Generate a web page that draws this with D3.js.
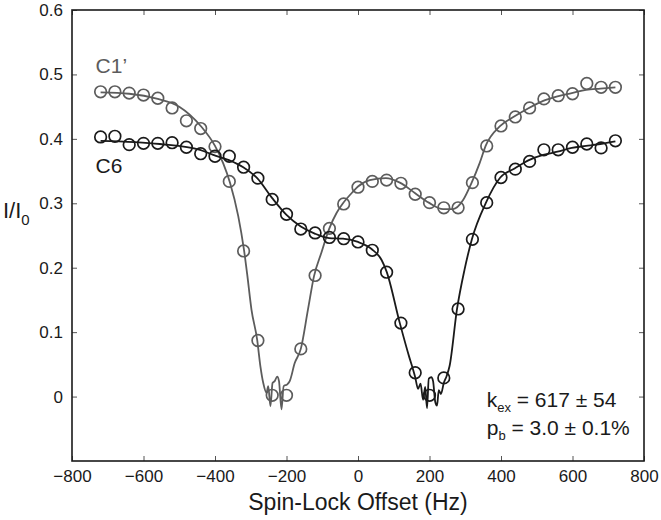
<!DOCTYPE html>
<html>
<head>
<meta charset="utf-8">
<script src="https://cdn.jsdelivr.net/npm/d3@7"></script>
<style>
  body { margin: 0; background: #fff; }
  text { font-family: "Liberation Sans", Arial, Helvetica, sans-serif; }
</style>
</head>
<body>
<div id="canvas"></div>
<script>
// spin-lock offsets (Hz) of the measured points
const offsets = [-720, -680, -640, -600, -560, -520, -480, -440, -400, -360, -320, -280, -240, -200, -160, -120, -80, -40,
  0, 40, 80, 120, 160, 200, 240, 280, 320, 360, 400, 440, 480, 520, 560, 600, 640, 680, 720];

const c1Points = [0.473, 0.473, 0.471, 0.468, 0.463, 0.448, 0.428, 0.416, 0.388, 0.334, 0.226, 0.087, 0.002, 0.002,
  0.074, 0.188, 0.261, 0.299, 0.325, 0.334, 0.336, 0.331, 0.314, 0.301, 0.293, 0.293, 0.332, 0.389, 0.42, 0.434,
  0.448, 0.462, 0.467, 0.47, 0.486, 0.48, 0.48];

const c6Points = [0.403, 0.404, 0.391, 0.393, 0.393, 0.394, 0.387, 0.377, 0.373, 0.373, 0.356, 0.339, 0.306, 0.283,
  0.26, 0.254, 0.247, 0.245, 0.24, 0.227, 0.193, 0.114, 0.037, 0.002, 0.029, 0.136, 0.244, 0.301, 0.34, 0.353,
  0.365, 0.383, 0.383, 0.387, 0.392, 0.386, 0.397];

// fitted curves (incl. the numerical ripple at the dips)
const c1FitX = [-720, -640, -560, -500, -440, -400, -377, -358, -335, -319, -310, -298, -282, -273, -265, -256, -251,
  -245, -239, -233, -226, -221, -214, -208, -198, -191, -177, -160, -140, -123, -102, -81, -60, -42, -14, 0, 33, 78,
  117, 159, 198, 238, 266, 294, 317, 340, 357, 398, 438, 478, 518, 558, 598, 638, 678, 720];
const c1FitY = [0.472, 0.47, 0.462, 0.45, 0.42, 0.389, 0.362, 0.332, 0.28, 0.228, 0.19, 0.135, 0.088, 0.047, 0.021,
  0.006, 0.016, -0.015, 0.021, 0.024, 0.031, 0.024, -0.02, 0.016, 0.019, 0.024, 0.052, 0.074, 0.135, 0.187, 0.224,
  0.26, 0.285, 0.3, 0.318, 0.326, 0.336, 0.339, 0.332, 0.316, 0.301, 0.291, 0.291, 0.305, 0.331, 0.362, 0.389, 0.42,
  0.435, 0.448, 0.459, 0.466, 0.471, 0.476, 0.478, 0.48];

const c6FitX = [-720, -554, -442, -405, -361, -321, -282, -240, -200, -160, -121, -81, -42, 0, 38, 66, 80, 117, 143,
  154, 160, 168, 175, 182, 188, 193, 198, 205, 210, 216, 221, 226, 232, 240, 248, 256, 277, 298, 319, 357, 398, 438,
  478, 518, 558, 598, 638, 678, 720];
const c6FitY = [0.397, 0.392, 0.383, 0.375, 0.367, 0.356, 0.339, 0.308, 0.282, 0.264, 0.253, 0.246, 0.245, 0.24,
  0.229, 0.212, 0.194, 0.114, 0.062, 0.042, 0.03, 0.012, 0.02, -0.005, 0.015, -0.018, 0.028, 0.03, 0.024, -0.008,
  -0.014, 0.01, 0.004, 0.021, 0.032, 0.047, 0.136, 0.197, 0.245, 0.3, 0.34, 0.354, 0.367, 0.375, 0.38, 0.386,
  0.389, 0.392, 0.396];

const xTicks = [-800, -600, -400, -200, 0, 200, 400, 600, 800];
const yTicks = [0, 0.1, 0.2, 0.3, 0.4, 0.5, 0.6];

const series = [
  { name: "C1\u2019", points: c1Points, fitX: c1FitX, fitY: c1FitY, color: "#5c5c5c" },
  { name: "C6", points: c6Points, fitX: c6FitX, fitY: c6FitY, color: "#1a1a1a" }
];

const width = 661;
const height = 520;
const margin = { top: 10, left: 72, bottom: 59, right: 17 };
const iwidth = width - margin.left - margin.right;
const iheight = height - margin.top - margin.bottom;

const svg = d3.select("#canvas").append("svg").attr("width", width).attr("height", height);
const g = svg.append("g").attr("transform", `translate(${margin.left},${margin.top})`);

const x = d3.scaleLinear().domain([-800, 800]).range([0, iwidth]);
const y = d3.scaleLinear().domain([-0.1, 0.6]).range([iheight, 0]);

// axes, MATLAB style: ticks pointing inwards on all four sides
const fmtY = (d) => (d === 0 ? "0" : d3.format(".1f")(d));
const tickLen = 5;

const xb = g.append("g").attr("transform", `translate(0,${iheight})`)
  .call(d3.axisBottom(x).tickValues(xTicks).tickSizeInner(-tickLen).tickSizeOuter(0).tickPadding(9));
const xt = g.append("g")
  .call(d3.axisTop(x).tickValues(xTicks).tickSizeInner(-tickLen).tickSizeOuter(0).tickFormat(""));
const yl = g.append("g")
  .call(d3.axisLeft(y).tickValues(yTicks).tickFormat(fmtY).tickSizeInner(-tickLen).tickSizeOuter(0).tickPadding(9));
const yr = g.append("g").attr("transform", `translate(${iwidth},0)`)
  .call(d3.axisRight(y).tickValues(yTicks).tickSizeInner(-tickLen).tickSizeOuter(0).tickFormat(""));

[xb, xt, yl, yr].forEach((a) => {
  a.select(".domain").remove();
  a.selectAll(".tick line").attr("stroke", "#555").attr("stroke-width", 1);
  a.selectAll(".tick text").attr("fill", "#1a1a1a").style("font-size", "17px");
});

g.append("rect")
  .attr("width", iwidth)
  .attr("height", iheight)
  .attr("fill", "none")
  .attr("stroke", "#1a1a1a")
  .attr("stroke-width", 1.6);

// fitted lines
const line = d3.line().x((d) => x(d[0])).y((d) => y(d[1])).curve(d3.curveMonotoneX);

series.forEach((s) => {
  g.append("path")
    .datum(s.fitX.map((v, i) => [v, s.fitY[i]]))
    .attr("fill", "none")
    .attr("stroke", s.color)
    .attr("stroke-width", 1.8)
    .attr("d", line);
});

// measured points
series.forEach((s) => {
  g.append("g")
    .selectAll("circle")
    .data(offsets.map((v, i) => [v, s.points[i]]))
    .enter()
    .append("circle")
    .attr("cx", (d) => x(d[0]))
    .attr("cy", (d) => y(d[1]))
    .attr("r", 5.8)
    .attr("fill", "none")
    .attr("stroke", s.color)
    .attr("stroke-width", 1.7);
});

// series labels
g.append("text").attr("x", x(-720) - 5).attr("y", y(0.5) - 1)
  .attr("fill", series[0].color).style("font-size", "21px").text(series[0].name);
g.append("text").attr("x", x(-720) - 5).attr("y", y(0.347))
  .attr("fill", series[1].color).style("font-size", "21px").text(series[1].name);

// fit results
const note = g.append("g").attr("fill", "#1a1a1a").style("font-size", "21px");
const t1 = note.append("text").attr("x", x(360)).attr("y", y(-0.0165));
t1.append("tspan").text("k");
t1.append("tspan").attr("dy", 5).style("font-size", "13px").text("ex");
t1.append("tspan").attr("dy", -5).text(" = 617 \u00b1 54");
const t2 = note.append("text").attr("x", x(360)).attr("y", y(-0.06));
t2.append("tspan").text("p");
t2.append("tspan").attr("dy", 5).style("font-size", "13px").text("b");
t2.append("tspan").attr("dy", -5).text("  = 3.0 \u00b1 0.1%");

// axis titles
svg.append("text")
  .attr("x", margin.left + iwidth / 2)
  .attr("y", 510)
  .attr("text-anchor", "middle")
  .attr("fill", "#1a1a1a")
  .style("font-size", "23px")
  .text("Spin-Lock Offset (Hz)");

const yTitle = svg.append("text").attr("x", 3).attr("y", 218).attr("fill", "#1a1a1a").style("font-size", "22px");
yTitle.append("tspan").text("I/I");
yTitle.append("tspan").attr("dy", 7).style("font-size", "15px").text("0");
</script>
</body>
</html>
